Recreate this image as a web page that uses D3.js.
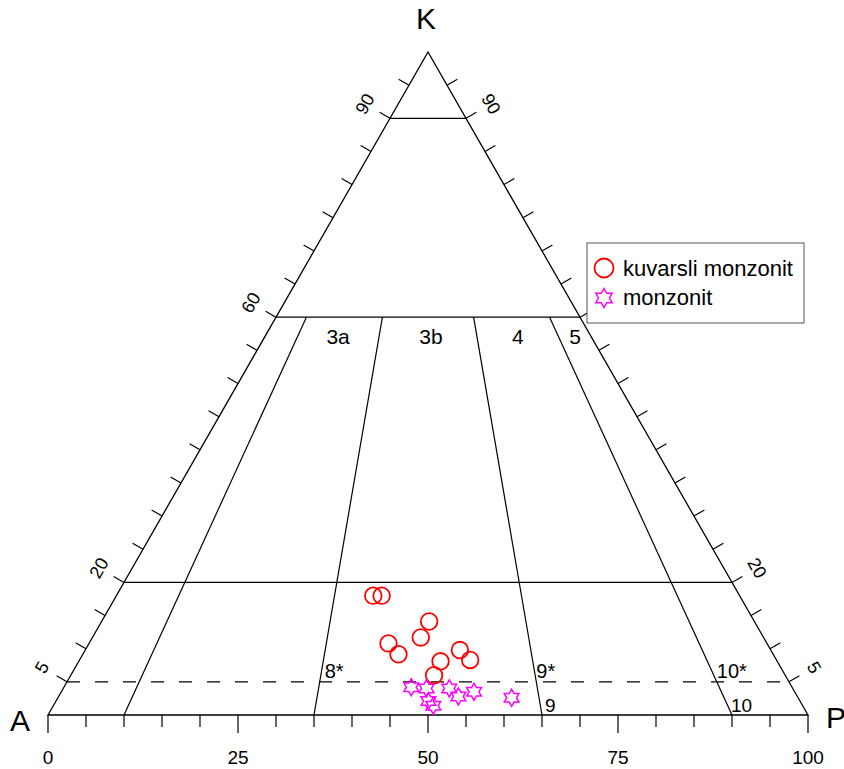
<!DOCTYPE html>
<html>
<head>
<meta charset="utf-8">
<script src="https://cdn.jsdelivr.net/npm/d3@7/dist/d3.min.js"></script>
<style>
  body { margin: 0; background: #fff; }
  text { font-family: "Liberation Sans", Arial, sans-serif; fill: #000; }
</style>
</head>
<body>
<svg width="844" height="769"></svg>
<script>
// Data (A, P, K in percent)
const kuvarsliA = [48.2, 47.1, 42.8, 45.1, 49.8, 49.5, 40.9, 40.3, 44.3, 46.2];
const kuvarsliP = [33.8, 34.9, 43.1, 43.2, 39.4, 41.7, 49.3, 51.4, 47.6, 47.8];
const kuvarsliK = [18.0, 18.0, 14.1, 11.7, 10.8, 9.2, 9.8, 8.3, 8.1, 6.0];

const monzonitA = [50.1, 48.2, 45.2, 44.6, 42.2, 48.9, 48.6, 37.7];
const monzonitP = [45.7, 47.8, 50.8, 52.6, 54.3, 49.0, 50.0, 59.7];
const monzonitK = [4.2, 4.0, 4.0, 2.8, 3.5, 2.1, 1.4, 2.6];

// Field boundaries
const kLevels = [90, 60, 20];
const dashedLevel = 5;
const ratioLines = [10, 35, 65, 90];
const upperFields = ["3a", "3b", "4", "5"];
const dashedFields = ["8*", "9*", "10*"];
const baseFields = ["9", "10"];

// Axis labels
const baseTicks = d3.range(0, 101, 5);
const baseTickLabels = [0, 25, 50, 75, 100];
const sideTicks = d3.range(5, 100, 5);
const sideTickLabels = [5, 20, 60, 90];
const legendNames = ["kuvarsli monzonit", "monzonit"];

// The svg
const svg = d3.select("svg");

// Scales: base position and K height
const x = d3.scaleLinear().domain([0, 100]).range([48, 808]);
const y = d3.scaleLinear().domain([0, 100]).range([715, 52]);

function proj(a, p, k) {
  const s = a + p + k;
  p = p / s * 100; k = k / s * 100;
  return [x(p + k / 2), y(k)];
}
const leftPt = k => proj(100 - k, 0, k);
const rightPt = k => proj(0, 100 - k, k);
// point at a given K level and P/(A+P) ratio
const ratioPt = (r, k) => proj((100 - k) * (1 - r / 100), (100 - k) * r / 100, k);

const line = d3.line();
const g = svg.append("g");

// triangle
g.append("path")
  .attr("d", line([proj(100, 0, 0), proj(0, 100, 0), proj(0, 0, 100)]) + "Z")
  .attr("fill", "none").attr("stroke", "#000").attr("stroke-width", 1.3);

// horizontal K levels
g.selectAll(".klevel").data(kLevels).enter().append("path")
  .attr("d", k => line([leftPt(k), rightPt(k)]))
  .attr("stroke", "#000").attr("stroke-width", 1.2);

g.append("path")
  .attr("d", line([leftPt(dashedLevel), rightPt(dashedLevel)]))
  .attr("stroke", "#000").attr("stroke-width", 1.2)
  .attr("stroke-dasharray", "13,15");

// P/(A+P) lines
g.selectAll(".ratio").data(ratioLines).enter().append("path")
  .attr("d", r => line([ratioPt(r, 60), ratioPt(r, 0)]))
  .attr("stroke", "#000").attr("stroke-width", 1.2);

// base ticks
g.selectAll(".btick").data(baseTicks).enter().append("line")
  .attr("x1", d => x(d)).attr("x2", d => x(d))
  .attr("y1", y(0))
  .attr("y2", d => y(0) + (baseTickLabels.includes(d) ? 18 : 12))
  .attr("stroke", "#000").attr("stroke-width", 1.2);

g.selectAll(".blabel").data(baseTickLabels).enter().append("text")
  .attr("x", d => x(d)).attr("y", 764)
  .attr("text-anchor", "middle").attr("font-size", 19)
  .text(d => d);

// side ticks, outward normals
const nL = [-0.866, -0.5], nR = [0.866, -0.5];
[[leftPt, nL, -60], [rightPt, nR, 60]].forEach(([pt, n, rot]) => {
  g.append("g").selectAll("line").data(sideTicks).enter().append("line")
    .attr("x1", d => pt(d)[0]).attr("y1", d => pt(d)[1])
    .attr("x2", d => pt(d)[0] + n[0] * 12).attr("y2", d => pt(d)[1] + n[1] * 12)
    .attr("stroke", "#000").attr("stroke-width", 1.2);
  g.append("g").selectAll("text").data(sideTickLabels).enter().append("text")
    .attr("transform", d => {
      const p = pt(d);
      return `translate(${p[0] + n[0] * 29},${p[1] + n[1] * 29}) rotate(${rot})`;
    })
    .attr("text-anchor", "middle").attr("dy", "0.35em").attr("font-size", 18)
    .text(d => d);
});

// field labels
const bounds = ratioLines.concat([100]);
g.selectAll(".uf").data(upperFields).enter().append("text")
  .attr("x", (d, i) => ratioPt((bounds[i] + bounds[i + 1]) / 2, 57)[0] + (i === 1 ? 3 : 0))
  .attr("y", 344)
  .attr("text-anchor", "middle").attr("font-size", 21)
  .text(d => d);

g.selectAll(".df").data(dashedFields).enter().append("text")
  .attr("x", (d, i) => ratioPt(ratioLines[i + 1], dashedLevel)[0] + (i === 0 ? 5 : 0))
  .attr("y", 678)
  .attr("font-size", 20)
  .text(d => d);

g.selectAll(".bf").data(baseFields).enter().append("text")
  .attr("x", (d, i) => x(ratioLines[i + 2]) + (i === 0 ? 3 : -1))
  .attr("y", 712)
  .attr("font-size", 19)
  .text(d => d);

// vertex labels
g.append("text").attr("x", 426).attr("y", 29).attr("text-anchor", "middle")
  .attr("font-size", 30).text("K");
g.append("text").attr("x", 20).attr("y", 731).attr("text-anchor", "middle")
  .attr("font-size", 30).text("A");
g.append("text").attr("x", 826).attr("y", 728)
  .attr("font-size", 30).text("P");

// six-pointed star outline
function hexStar(r) {
  const pts = d3.range(12).map(i => {
    const a = -Math.PI / 2 + i * Math.PI / 6;
    const rr = i % 2 ? r / Math.sqrt(3) : r;
    return [rr * Math.cos(a), rr * Math.sin(a)];
  });
  return line(pts) + "Z";
}

// points
g.append("g").selectAll("circle").data(kuvarsliA).enter().append("circle")
  .attr("cx", (d, i) => proj(d, kuvarsliP[i], kuvarsliK[i])[0])
  .attr("cy", (d, i) => proj(d, kuvarsliP[i], kuvarsliK[i])[1])
  .attr("r", 8.3)
  .attr("fill", "none").attr("stroke", "#ff0000").attr("stroke-width", 1.8);

g.append("g").selectAll("path").data(monzonitA).enter().append("path")
  .attr("d", hexStar(8.5))
  .attr("transform", (d, i) => `translate(${proj(d, monzonitP[i], monzonitK[i])})`)
  .attr("fill", "none").attr("stroke", "#ff00ff").attr("stroke-width", 1.5);

// legend
const legend = svg.append("g").attr("transform", "translate(587,243)");
legend.append("rect").attr("width", 217).attr("height", 80)
  .attr("fill", "#fff").attr("stroke", "#555").attr("stroke-width", 1);
legend.append("circle").attr("cx", 17).attr("cy", 25).attr("r", 9.5)
  .attr("fill", "none").attr("stroke", "#ff0000").attr("stroke-width", 1.8);
legend.append("path").attr("d", hexStar(9.5)).attr("transform", "translate(17,55)")
  .attr("fill", "none").attr("stroke", "#ff00ff").attr("stroke-width", 1.5);
legend.selectAll("text").data(legendNames).enter().append("text")
  .attr("x", 36).attr("y", (d, i) => 33 + i * 29)
  .attr("font-size", 22)
  .text(d => d);
</script>
</body>
</html>
